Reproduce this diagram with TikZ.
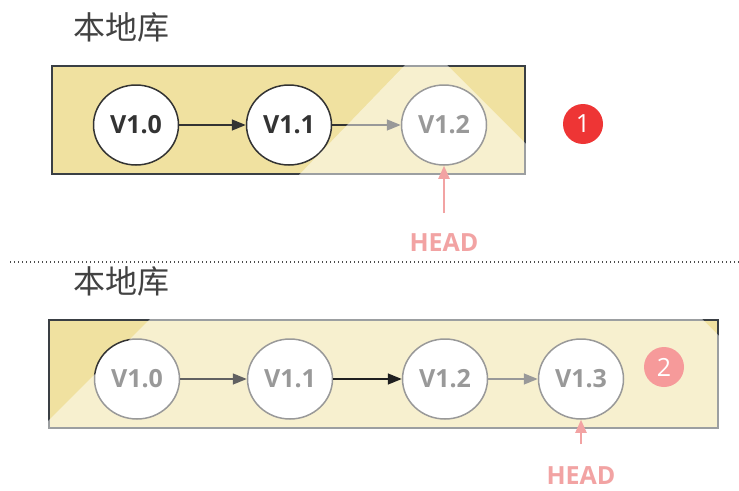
\documentclass[tikz,border=0pt]{standalone}
\usepackage{fontspec}
\setmainfont{Open Sans}
\newfontfamily\cjk{Noto Sans CJK SC}
\usetikzlibrary{shapes.geometric,arrows.meta}
\definecolor{boxfill}{HTML}{F0E1A0}
\definecolor{boxline}{HTML}{3A3F44}
\definecolor{darktxt}{HTML}{333333}
\definecolor{headpink}{HTML}{F2A3A3}
\definecolor{badgered}{HTML}{EE3535}
\tikzset{
  repo/.style={draw=boxline, line width=1.8pt, fill=boxfill},
  ver/.style={ellipse, draw=darktxt, line width=1.5pt, fill=white, minimum width=85pt, minimum height=80pt, inner sep=0pt, font=\fontsize{25}{28}\selectfont\bfseries, text=darktxt},
  link/.style={draw=darktxt, line width=1.5pt, -{Triangle[length=14pt,width=11pt]}},
  headarrow/.style={draw=headpink, line width=2pt, -{Triangle[length=13pt,width=11pt]}},
  headtxt/.style={font=\fontsize{25}{28}\selectfont\bfseries, text=headpink, inner sep=0pt},
  badge/.style={circle, fill=badgered, minimum size=40pt, inner sep=0pt, text=white, font=\fontsize{25}{27}\selectfont},
  title/.style={font=\cjk\fontsize{32}{35}\selectfont, text=black!74},
  veil/.style={fill=white, fill opacity=0.5, draw=none}
}
\begin{document}
\begin{tikzpicture}[x=1pt,y=-1pt]
\useasboundingbox (0,0) rectangle (739,490);
\fill[white] (0,0) rectangle (739,490);

% ---------- top panel ----------
\node[title] (t1) at (121,27) {本地库};
\draw[repo] (52,66) rectangle (525,174);
\node[ver] (a0) at (136,125) {V1.0};
\node[ver] (a1) at (289,125) {V1.1};
\node[ver] (a2) at (444,125) {V1.2};
\draw[link] (a0) -- (a1);
\draw[link] (a1) -- (a2);
\fill[veil] (407,63) -- (445,63) -- (527,145) -- (527,176) -- (298,176) -- cycle;
\node[badge] (b1) at (583,124) {1};
\node[headtxt] (h1) at (444,243) {HEAD};
\coordinate (h1s) at (444,213);
\draw[headarrow] (h1s) -- (a2.south);

% ---------- separator ----------
\coordinate (s0) at (10,262);
\coordinate (s1) at (739,262);
\draw[black!70, line width=1.2pt, dash pattern=on 1.2pt off 2.8pt] (s0) -- (s1);

% ---------- bottom panel ----------
\node[title] (t2) at (121,281) {本地库};
\draw[repo] (49,320) rectangle (718,428);
\node[ver] (c0) at (137,379) {V1.0};
\node[ver] (c1) at (290,379) {V1.1};
\node[ver] (c2) at (445,379) {V1.2};
\node[ver] (c3) at (581,379) {V1.3};
\draw[link] (c2) -- (c3);
\node[badge] (b2) at (664,367) {2};
\fill[veil] (152,317) -- (700,317) -- (721,338) -- (721,431) -- (46,431) -- (46,423) -- cycle;
\draw[link, draw=black!62] (c0) -- (c1);
\draw[link, draw=black!88] (c1) -- (c2);
\node[headtxt] (h2) at (581,476) {HEAD};
\coordinate (h2s) at (581,444);
\draw[headarrow] (h2s) -- (c3.south);
\end{tikzpicture}
\end{document}
